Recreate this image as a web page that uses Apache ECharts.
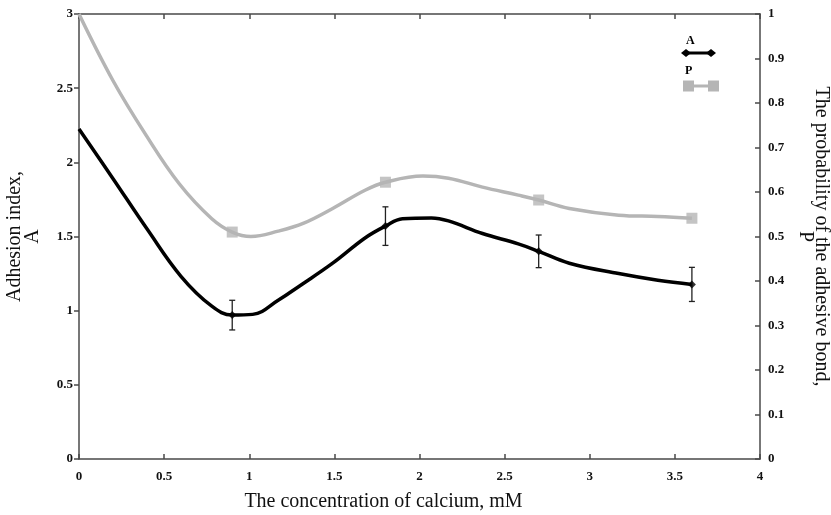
<!DOCTYPE html>
<html>
<head>
<meta charset="utf-8">
<script src="https://cdn.jsdelivr.net/npm/echarts@6/dist/echarts.min.js"></script>
<style>
html,body{margin:0;padding:0;background:#fff;}
#chart{width:831px;height:515px;}
</style>
</head>
<body>
<div id="chart"></div>
<script>
// ---- data ----
var xTicks = [0, 0.5, 1, 1.5, 2, 2.5, 3, 3.5, 4];
// measured points (calcium mM)
var pointX = [0.9, 1.8, 2.7, 3.6];
var pointA = [0.97, 1.57, 1.40, 1.177];
var errA   = [0.10, 0.13, 0.11, 0.115];
var pointP = [0.51, 0.622, 0.582, 0.541];
// smoothed curves
var curveAx = [0, 0.2, 0.4, 0.6, 0.78, 0.9, 1.02, 1.17, 1.3, 1.49, 1.68, 1.8, 1.9, 2.07, 2.17, 2.37, 2.58, 2.7, 2.88, 3.17, 3.4, 3.6];
var curveAy = [2.225, 1.89, 1.55, 1.23, 1.03, 0.97, 0.975, 1.07, 1.17, 1.32, 1.49, 1.57, 1.62, 1.625, 1.605, 1.52, 1.45, 1.40, 1.32, 1.25, 1.205, 1.177];
var curvePx = [0, 0.2, 0.39, 0.59, 0.78, 0.9, 1.01, 1.17, 1.32, 1.49, 1.68, 1.8, 2.02, 2.17, 2.37, 2.58, 2.7, 2.88, 3.17, 3.4, 3.6];
var curvePy = [1.0, 0.85, 0.73, 0.618, 0.54, 0.51, 0.50, 0.512, 0.53, 0.563, 0.604, 0.622, 0.636, 0.631, 0.611, 0.593, 0.582, 0.563, 0.548, 0.545, 0.541];

function zip(a, b) { return a.map(function (v, i) { return [v, b[i]]; }); }

var chart = echarts.init(document.getElementById('chart'), null, {renderer: 'canvas'});
var axisCol = '#4a4a4a';
var serif = '"Liberation Serif", "DejaVu Serif", serif';
var tickFont = {fontFamily: serif, fontSize: 13, fontWeight: 'bold', color: '#111'};
var lineBase = {show: true, onZero: false, lineStyle: {color: axisCol, width: 1.5}};

var option = {
  backgroundColor: '#fff',
  animation: false,
  grid: {left: 79, right: 71, top: 14, bottom: 56, containLabel: false, outerBoundsMode: 'none'},
  xAxis: [{
    type: 'value', min: 0, max: 4, interval: 0.5, position: 'bottom',
    axisLine: lineBase,
    axisTick: {show: true, inside: true, length: 5, lineStyle: {color: axisCol, width: 1.5}},
    axisLabel: Object.assign({margin: 11, formatter: function (v) { return String(v); }}, tickFont),
    splitLine: {show: false},
    name: 'The concentration of calcium, mM',
    nameLocation: 'middle', nameGap: 33,
    nameTextStyle: {fontFamily: serif, fontSize: 20, color: '#111', padding: [0, 72, 0, 0]}
  }, {
    type: 'value', min: 0, max: 4, interval: 0.5, position: 'top',
    axisLine: lineBase,
    axisTick: {show: true, inside: true, length: 5, lineStyle: {color: axisCol, width: 1.5}},
    axisLabel: {show: false}, splitLine: {show: false}
  }],
  yAxis: [{
    type: 'value', min: 0, max: 3, interval: 0.5, position: 'left',
    axisLine: lineBase,
    axisTick: {show: true, inside: false, length: 5, lineStyle: {color: axisCol, width: 1.5}},
    axisLabel: Object.assign({margin: 6}, tickFont),
    splitLine: {show: false},
    name: 'Adhesion index,\nA',
    nameLocation: 'middle', nameRotate: 90, nameGap: 37,
    nameTextStyle: {fontFamily: serif, fontSize: 20, color: '#111', lineHeight: 18}
  }, {
    type: 'value', min: 0, max: 1, interval: 0.1, position: 'right',
    axisLine: lineBase,
    axisTick: {show: true, inside: true, length: 5, lineStyle: {color: axisCol, width: 1.5}},
    axisLabel: Object.assign({margin: 8, formatter: function (v) { return String(Math.round(v * 10) / 10); }}, tickFont),
    splitLine: {show: false},
    name: 'The probability of the adhesive bond,\nP',
    nameLocation: 'middle', nameRotate: -90, nameGap: 35,
    nameTextStyle: {fontFamily: serif, fontSize: 20, color: '#111', lineHeight: 16}
  }],
  series: [{
    name: 'P curve', type: 'line', xAxisIndex: 0, yAxisIndex: 1,
    data: zip(curvePx, curvePy), smooth: 0.4, showSymbol: false, symbol: 'none',
    lineStyle: {color: '#b5b5b5', width: 3.5}, z: 2
  }, {
    name: 'P', type: 'scatter', xAxisIndex: 0, yAxisIndex: 1,
    data: zip(pointX, pointP), symbol: 'rect', symbolSize: 11,
    itemStyle: {color: '#b5b5b5'}, z: 3
  }, {
    name: 'A curve', type: 'line', xAxisIndex: 0, yAxisIndex: 0,
    data: zip(curveAx, curveAy), smooth: 0.4, showSymbol: false, symbol: 'none',
    lineStyle: {color: '#000', width: 3.5}, z: 4
  }, {
    name: 'A err', type: 'custom', xAxisIndex: 0, yAxisIndex: 0,
    data: pointX.map(function (x, i) { return [x, pointA[i], errA[i]]; }),
    renderItem: function (params, api) {
      var x = api.value(0), y = api.value(1), e = api.value(2);
      var lo = api.coord([x, y - e]), hi = api.coord([x, y + e]);
      var st = {stroke: '#222', lineWidth: 1.3};
      return {type: 'group', children: [
        {type: 'line', shape: {x1: lo[0], y1: lo[1], x2: hi[0], y2: hi[1]}, style: st},
        {type: 'line', shape: {x1: lo[0] - 3, y1: lo[1], x2: lo[0] + 3, y2: lo[1]}, style: st},
        {type: 'line', shape: {x1: hi[0] - 3, y1: hi[1], x2: hi[0] + 3, y2: hi[1]}, style: st}
      ]};
    }, z: 5
  }, {
    name: 'A', type: 'scatter', xAxisIndex: 0, yAxisIndex: 0,
    data: zip(pointX, pointA), symbol: 'diamond', symbolSize: 8,
    itemStyle: {color: '#000'}, z: 6
  }],
  graphic: [
    {type: 'text', left: 686, top: 35, style: {text: 'A', font: 'bold 12px ' + serif, fill: '#000'}},
    {type: 'line', shape: {x1: 686, y1: 53, x2: 711, y2: 53}, style: {stroke: '#000', lineWidth: 3}},
    {type: 'polygon', shape: {points: [[681, 53], [686, 49], [691, 53], [686, 57]]}, style: {fill: '#000'}},
    {type: 'polygon', shape: {points: [[706, 53], [711, 49], [716, 53], [711, 57]]}, style: {fill: '#000'}},
    {type: 'text', left: 685, top: 65, style: {text: 'P', font: 'bold 12px ' + serif, fill: '#000'}},
    {type: 'line', shape: {x1: 688, y1: 86, x2: 714, y2: 86}, style: {stroke: '#b5b5b5', lineWidth: 3}},
    {type: 'rect', shape: {x: 683, y: 80.5, width: 11, height: 11}, style: {fill: '#b5b5b5'}},
    {type: 'rect', shape: {x: 708, y: 80.5, width: 11, height: 11}, style: {fill: '#b5b5b5'}}
  ]
};
chart.setOption(option);
</script>
</body>
</html>
